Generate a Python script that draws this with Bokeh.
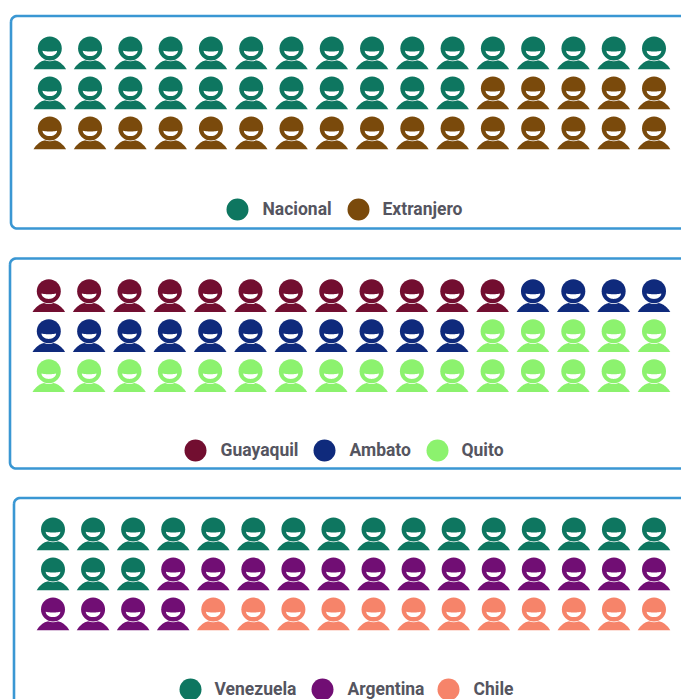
import numpy as np
from bokeh.plotting import figure
from bokeh.models import Range1d
from bokeh.core.properties import value
from bokeh.embed import file_html
from bokeh.resources import INLINE

# --- data ---
categories_1 = ["Nacional", "Extranjero"]
counts_1 = [27, 21]
colors_1 = ["#0E7660", "#7A4A0C"]

categories_2 = ["Guayaquil", "Ambato", "Quito"]
counts_2 = [12, 15, 21]
colors_2 = ["#720E30", "#0F2A7C", "#8CF26E"]

categories_3 = ["Venezuela", "Argentina", "Chile"]
counts_3 = [19, 17, 12]
colors_3 = ["#0E7660", "#710E74", "#F6846A"]

# --- layout (reference pixels) ---
COLS = 16
panels = [
    dict(cats=categories_1, counts=counts_1, colors=colors_1, x0=49.3, x1=653.5, y0=48,
         box=(10.5, 15.5, 700, 228), ly=209, lc=[237, 358], lt=[262, 382]),
    dict(cats=categories_2, counts=counts_2, colors=colors_2, x0=48.3, x1=653.5, y0=290.8,
         box=(9.5, 258, 700, 468), ly=450, lc=[195, 324, 437], lt=[220, 349, 461]),
    dict(cats=categories_3, counts=counts_3, colors=colors_3, x0=52.5, x1=653.5, y0=529,
         box=(13.5, 497.5, 700, 760), ly=689, lc=[190, 322, 448], lt=[214, 347, 473]),
]
ROW_PITCH = 40
HEAD_R = 12
BODY_HW = 16.3
BORDER = "#3A97D3"
W, H = 681, 699

p = figure(width=W, height=H, output_backend="svg", toolbar_location=None,
           x_range=Range1d(0, W), y_range=Range1d(H, 0), min_border=0)
p.axis.visible = False
p.grid.visible = False
p.outline_line_color = None
p.background_fill_color = "white"
p.border_fill_color = "white"


def rounded_box(l, t, r, b, rad=6):
    xs, ys = [], []
    for cx, cy, a0 in [(l + rad, t + rad, 180), (r - rad, t + rad, 270),
                       (r - rad, b - rad, 0), (l + rad, b - rad, 90)]:
        a = np.radians(np.linspace(a0, a0 + 90, 8))
        xs += list(cx + rad * np.cos(a))
        ys += list(cy + rad * np.sin(a))
    return xs + xs[:1], ys + ys[:1]


t_body = np.linspace(-1, 1, 41)
t_mouth = np.radians(np.linspace(0, 180, 25))
t_top = np.linspace(-1, 1, 13)
mouth_dx = np.concatenate([7.3 * np.cos(t_mouth), 7.3 * t_top])
mouth_dy = np.concatenate([2.2 + 5.4 * np.sin(t_mouth), 2.2 + 0.8 * (1 - t_top ** 2)])
BOTTOM = 20.8

for pn in panels:
    bx, by = rounded_box(*pn["box"])
    p.line(bx, by, line_color=BORDER, line_width=2.6)

    seq = np.repeat(np.arange(len(pn["counts"])), pn["counts"])
    pitch = (pn["x1"] - pn["x0"]) / (COLS - 1)
    cx = pn["x0"] + (np.arange(len(seq)) % COLS) * pitch
    cy = pn["y0"] + (np.arange(len(seq)) // COLS) * ROW_PITCH
    col = [pn["colors"][i] for i in seq]

    body_x = [list(x + BODY_HW * t_body) + [x + BODY_HW, x - BODY_HW] for x in cx]
    body_y = [list(y + BOTTOM - 9.6 * (1 - np.abs(t_body) ** 2.4) ** 0.9) + [y + BOTTOM, y + BOTTOM] for y in cy]
    p.patches(body_x, body_y, fill_color=col, line_color=None)
    p.circle(cx, cy, radius=HEAD_R + 0.8, fill_color="white", line_color=None)
    p.circle(cx, cy, radius=HEAD_R, fill_color=col, line_color=None)
    mouth_x = [list(x + mouth_dx) for x in cx]
    mouth_y = [list(y + mouth_dy) for y in cy]
    p.patches(mouth_x, mouth_y, fill_color="white", line_color=None)

    n = len(pn["cats"])
    p.circle(pn["lc"], [pn["ly"]] * n, radius=11, fill_color=pn["colors"], line_color=None)
    p.text(pn["lt"], [pn["ly"] - 0.6] * n, text=pn["cats"], text_font=value("Roboto"),
           text_font_size="17.5px", text_font_style="bold", text_color="#555560",
           text_baseline="middle", text_align="left")

open("out.html", "w").write(file_html(p, INLINE))
